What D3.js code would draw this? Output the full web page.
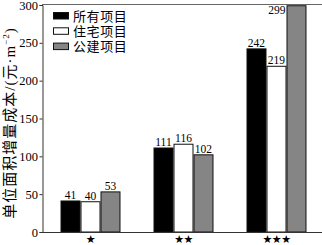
<!DOCTYPE html>
<html>
<head>
<meta charset="utf-8">
<script src="https://cdn.jsdelivr.net/npm/d3@7"></script>
<style>
  html, body { margin: 0; padding: 0; background: #fff; }
  svg { display: block; }
</style>
</head>
<body>
<svg id="chart" width="322" height="245"></svg>
<script>
// Star rating groups and the three project series
const categories = ["★", "★★", "★★★"];
const seriesNames = ["所有项目", "住宅项目", "公建项目"];
const allProjects = [41, 111, 242];
const residential = [40, 116, 219];
const publicBuildings = [53, 102, 299];
const yTicks = [0, 50, 100, 150, 200, 250, 300];
const seriesColors = ["#000000", "#ffffff", "#858585"];

const seriesValues = [allProjects, residential, publicBuildings];

const svg = d3.select("#chart");
const W = 322, H = 245;
const plotLeft = 42, plotTop = 5, plotBottom = 232;

const x0 = d3.scaleBand().domain(categories).range([44, 323])
  .paddingInner(0.355).paddingOuter(0.1775);
const x1 = d3.scaleBand().domain(d3.range(seriesNames.length))
  .range([0, x0.bandwidth()]);
const y = d3.scaleLinear().domain([0, 300]).range([plotBottom, plotTop]);

const serif = "'Liberation Serif', 'Times New Roman', serif";
const serifCjk = "'Liberation Serif', 'Noto Sans CJK SC', serif";

// Top frame line
svg.append("line")
  .attr("x1", plotLeft).attr("x2", W).attr("y1", plotTop - 0.5).attr("y2", plotTop - 0.5)
  .attr("stroke", "#666").attr("stroke-width", 1);

// Bars
const groups = svg.append("g").selectAll("g")
  .data(categories)
  .join("g")
  .attr("transform", d => `translate(${x0(d)},0)`);

groups.selectAll("rect")
  .data((c, ci) => seriesValues.map((vals, si) => ({ si, v: vals[ci] })))
  .join("rect")
  .attr("x", d => x1(d.si) + 0.5)
  .attr("y", d => y(d.v))
  .attr("width", x1.bandwidth() - 1)
  .attr("height", d => y(0) - y(d.v))
  .attr("fill", d => seriesColors[d.si])
  .attr("stroke", "#111")
  .attr("stroke-width", 1);

// Value labels; when the bar reaches the frame the label sits to its left
groups.selectAll("text.val")
  .data((c, ci) => seriesValues.map((vals, si) => ({ si, v: vals[ci] })))
  .join("text")
  .attr("class", "val")
  .attr("font-family", serif)
  .attr("font-size", 11.5)
  .attr("fill", "#000")
  .each(function (d) {
    const t = d3.select(this);
    const yv = y(d.v);
    if (yv - 12 < plotTop) {
      t.attr("x", x1(d.si) - 1).attr("y", yv + 8).attr("text-anchor", "end");
    } else {
      t.attr("x", x1(d.si) + x1.bandwidth() / 2).attr("y", yv - 2).attr("text-anchor", "middle");
    }
  })
  .text(d => d.v);

// Y axis
const yAxis = svg.append("g")
  .attr("transform", `translate(${plotLeft + 0.5},0)`)
  .call(d3.axisLeft(y).tickValues(yTicks).tickSize(3).tickPadding(1.5));
yAxis.select(".domain").attr("stroke", "#333");
yAxis.selectAll(".tick line").attr("stroke", "#333");
yAxis.selectAll("text")
  .attr("font-family", serif).attr("font-size", 12.5).attr("fill", "#000");

// X axis
const xAxis = svg.append("g")
  .attr("transform", `translate(0,${plotBottom + 0.5})`)
  .call(d3.axisBottom(x0).tickSize(0).tickPadding(3));
xAxis.select(".domain").attr("stroke", "#333").attr("d", `M${plotLeft},0H${W}`);
xAxis.selectAll("text")
  .attr("font-family", "'DejaVu Sans', sans-serif").attr("font-size", 11)
  .attr("letter-spacing", -0.5).attr("fill", "#000");

// Y title with serif punctuation and unit
const yTitle = svg.append("text")
  .attr("transform", "translate(15,123) rotate(-90)")
  .attr("text-anchor", "middle")
  .attr("font-family", serifCjk)
  .attr("font-size", 15)
  .attr("letter-spacing", 1)
  .attr("fill", "#000");
yTitle.append("tspan").text("单位面积增量成本/(元·m");
yTitle.append("tspan").attr("font-size", 9).attr("dy", -6).text("−2");
yTitle.append("tspan").attr("dy", 6).text(")");

// Legend
const legend = svg.append("g").attr("transform", "translate(53,16)");
const items = legend.selectAll("g")
  .data(seriesNames)
  .join("g")
  .attr("transform", (d, i) => `translate(0,${i * 15.3})`);
items.append("rect")
  .attr("x", 0.5).attr("y", -3.5).attr("width", 15).attr("height", 6.5)
  .attr("fill", (d, i) => seriesColors[i])
  .attr("stroke", "#111").attr("stroke-width", 1);
items.append("text")
  .attr("x", 20).attr("y", 0).attr("dy", "0.36em")
  .attr("font-family", serifCjk).attr("font-size", 13).attr("letter-spacing", 0.6)
  .attr("fill", "#000")
  .text(d => d);
</script>
</body>
</html>
